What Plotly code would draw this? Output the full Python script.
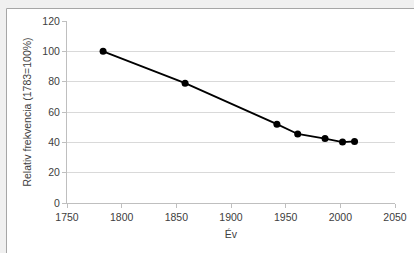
import plotly.graph_objects as go

years = [1783, 1858, 1942, 1961, 1986, 2002, 2013]
rel_freq = [100, 79, 52, 45.5, 42.5, 40.2, 40.6]
x_title = "Év"
y_title = "Relativ frekvencia (1783=100%)"

W, H = 414, 253
L, R, T, B = 67, 19, 21, 50
pw, ph = W - L - R, H - T - B


def px(v):
    return (v - L) / pw


def py(v):
    return (H - B - v) / ph


fig = go.Figure()
fig.add_trace(go.Scatter(
    x=years, y=rel_freq, mode="lines+markers",
    line=dict(color="black", width=1.8),
    marker=dict(color="black", size=7),
    showlegend=False, hoverinfo="skip"))

# outer chart frame: light gray strips on top/left with a darker edge line
frame = [
    (px(-5), py(4), px(W + 5), py(4), "#f0f0f0", 8),
    (px(3), py(-5), px(3), py(H + 5), "#f0f0f0", 6),
    (px(6.5), py(8.5), px(W + 5), py(8.5), "#a6a6a6", 1),
    (px(6.5), py(8.5), px(6.5), py(H + 5), "#a6a6a6", 1),
]
for x0, y0, x1, y1, c, w in frame:
    fig.add_shape(type="line", xref="paper", yref="paper", x0=x0, y0=y0, x1=x1, y1=y1,
                  line=dict(color=c, width=w))

axis_font = dict(family="Liberation Sans, Arial, sans-serif", size=10.5, color="#404040")
fig.update_layout(
    width=W, height=H, autosize=False,
    margin=dict(l=L, r=R, t=T, b=B, autoexpand=False),
    paper_bgcolor="white", plot_bgcolor="white",
    font=axis_font,
    xaxis=dict(range=[1750, 2050], dtick=50, tick0=1750, showgrid=False,
               showline=True, linecolor="#bfbfbf", linewidth=1,
               ticks="outside", ticklen=4, tickcolor="#bfbfbf",
               tickfont=axis_font, zeroline=False,
               title=dict(text=x_title, font=axis_font, standoff=9)),
    yaxis=dict(range=[0, 120], dtick=20, showgrid=True, gridcolor="#d9d9d9", gridwidth=1,
               showline=True, linecolor="#bfbfbf", linewidth=1,
               ticks="outside", ticklen=4, tickcolor="#bfbfbf",
               tickfont=axis_font, zeroline=False,
               title=dict(text=y_title, font=axis_font, standoff=8)),
)

fig.write_html("out.html", config={"displayModeBar": False, "staticPlot": True, "responsive": False},
               post_script="document.body.style.margin='0';document.body.style.overflow='hidden';")
